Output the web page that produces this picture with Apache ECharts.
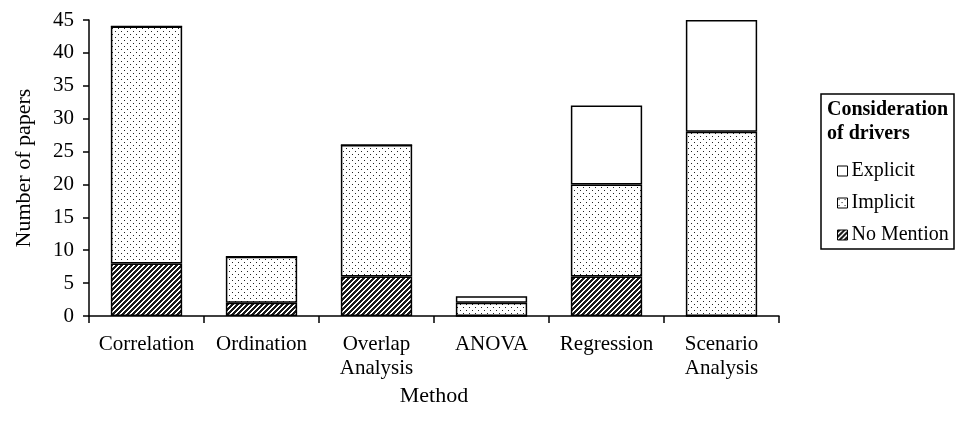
<!DOCTYPE html>
<html>
<head>
<meta charset="utf-8">
<script src="https://cdn.jsdelivr.net/npm/echarts@6/dist/echarts.min.js"></script>
<style>html,body{margin:0;padding:0;background:#fff}#c{width:960px;height:421px}</style>
</head>
<body>
<div id="c"></div>
<script>
var categories = ['Correlation', 'Ordination', 'Overlap\nAnalysis', 'ANOVA', 'Regression', 'Scenario\nAnalysis'];
var noMention = [8, 2, 6, 0, 6, 0];
var implicit = [36, 7, 20, 2, 14, 28];
var explicit = [0, 0, 0, 1, 12, 17];
var yTicks = {min: 0, max: 45, interval: 5};

function makeDots() {
  var c = document.createElement('canvas'); c.width = 6; c.height = 6;
  var g = c.getContext('2d');
  g.fillStyle = '#fff'; g.fillRect(0, 0, 6, 6);
  g.fillStyle = '#222';
  g.fillRect(1, 1, 1, 1); g.fillRect(4, 4, 1, 1);
  return c;
}
function makeHatch() {
  var n = 5;
  var c = document.createElement('canvas'); c.width = n; c.height = n;
  var g = c.getContext('2d');
  for (var x = 0; x < n; x++) for (var y = 0; y < n; y++) {
    g.fillStyle = ((x + y) % n) < 3 ? '#1a1a1a' : '#ffffff';
    g.fillRect(x, y, 1, 1);
  }
  return c;
}
var dotPat = {image: makeDots(), repeat: 'repeat'};
var hatchPat = {image: makeHatch(), repeat: 'repeat'};

var font = 'Liberation Serif';
var chart = echarts.init(document.getElementById('c'), null, {renderer: 'canvas'});
function ser(name, data, color) {
  return {
    name: name, type: 'bar', stack: 'a', data: data, barWidth: '62%',
    itemStyle: {color: color, borderColor: '#000', borderWidth: 1.5},
    emphasis: {disabled: true}, animation: false
  };
}
chart.setOption({
  animation: false,
  textStyle: {fontFamily: font, color: '#000'},
  grid: {left: 89, right: 181, top: 20, bottom: 105},
  xAxis: {
    type: 'category', data: categories,
    name: 'Method', nameLocation: 'middle', nameGap: 51,
    nameTextStyle: {fontFamily: font, fontSize: 22, color: '#000'},
    axisLine: {lineStyle: {color: '#000', width: 1.5}},
    axisTick: {show: true, length: 7, lineStyle: {color: '#000', width: 1.5}},
    axisLabel: {fontFamily: font, fontSize: 21, color: '#000', margin: 16, lineHeight: 24, interval: 0},
    splitLine: {show: false}
  },
  yAxis: {
    type: 'value', min: yTicks.min, max: yTicks.max, interval: yTicks.interval,
    name: 'Number of papers', nameLocation: 'middle', nameGap: 54,
    nameTextStyle: {fontFamily: font, fontSize: 22, color: '#000'},
    axisLine: {show: true, lineStyle: {color: '#000', width: 1.5}},
    axisTick: {show: true, length: 6, lineStyle: {color: '#000', width: 1.5}},
    axisLabel: {fontFamily: font, fontSize: 21, color: '#000', margin: 15},
    splitLine: {show: false}
  },
  legend: {
    data: ['Explicit', 'Implicit', 'No Mention'],
    orient: 'vertical', left: 837, top: 161, padding: 0,
    itemWidth: 10, itemHeight: 10, itemGap: 12,
    icon: 'rect',
    itemStyle: {borderColor: '#000', borderWidth: 1},
    textStyle: {fontFamily: font, fontSize: 20, color: '#000', padding: [0, 0, 0, -1]},
    selectedMode: false
  },
  graphic: [
    {type: 'rect', shape: {x: 821, y: 94, width: 133, height: 155},
     style: {fill: 'none', stroke: '#000', lineWidth: 1.5}, silent: true},
    {type: 'text', x: 827, y: 98,
     style: {text: 'Consideration\nof drivers', font: 'bold 20px "Liberation Serif"', fill: '#000', lineHeight: 24}, silent: true}
  ],
  series: [
    ser('No Mention', noMention, hatchPat),
    ser('Implicit', implicit, dotPat),
    ser('Explicit', explicit, '#fff')
  ]
});
</script>
</body>
</html>
